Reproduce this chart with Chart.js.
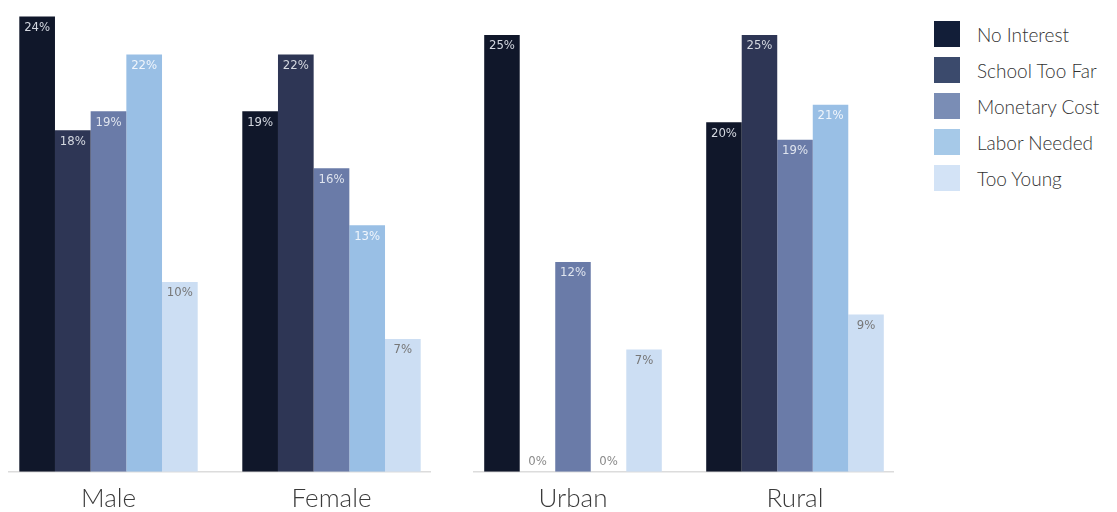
<!DOCTYPE html>
<html>
<head>
    <title>Reasons for Not Attending School</title>
    <script src="https://cdn.jsdelivr.net/npm/chart.js"></script>
    <style>
        body {
            margin: 0;
            padding: 0;
            background: #fff;
            width: 1117px;
            height: 512px;
            position: relative;
            overflow: hidden;
            font-family: Lato, "Open Sans", sans-serif;
        }
        .panel {
            position: absolute;
            top: 0;
            height: 526px;
        }
        #panel-sex { left: -3px; width: 446px; }
        #panel-area { left: 462px; width: 444px; }
        #legend {
            position: absolute;
            left: 934px;
            top: 21px;
        }
        .item {
            display: flex;
            align-items: center;
            height: 26px;
            margin-bottom: 10px;
            font-size: 19px;
            font-weight: 300;
            color: #333;
        }
        .swatch {
            width: 26px;
            height: 26px;
            margin-right: 17px;
        }
    </style>
</head>
<body>

<div class="panel" id="panel-sex"><canvas id="chartSex"></canvas></div>
<div class="panel" id="panel-area"><canvas id="chartArea"></canvas></div>
<div id="legend"></div>

<script>
// reasons (one series per reason)
const reasons = ['No Interest', 'School Too Far', 'Monetary Cost', 'Labor Needed', 'Too Young'];
const barColors = ['#10172a', '#2e3655', '#6a7ba8', '#99bfe5', '#ccdef3'];
const legendColors = ['#121e38', '#3b4a6c', '#7a8db5', '#a6c9e8', '#d3e3f6'];
const labelColors = ['#d4d8e0', '#d4d8e0', '#dfe4ee', '#f0f5fc', '#777777'];

// panel 1: by sex
const sexGroups = ['Male', 'Female'];
const sexNoInterest = [24, 19];
const sexTooFar = [18, 22];
const sexCost = [19, 16];
const sexLabor = [22, 13];
const sexYoung = [10, 7];

// panel 2: by area
const areaGroups = ['Urban', 'Rural'];
const areaNoInterest = [25, 20];
const areaTooFar = [0, 25];
const areaCost = [12, 19];
const areaLabor = [0, 21];
const areaYoung = [7, 9];

// baseline a bit shorter than the plot area, drawn under the bars
const baseLine = {
    id: 'baseLine',
    beforeDatasetsDraw(chart) {
        const a = chart.chartArea;
        const ctx = chart.ctx;
        ctx.save();
        ctx.strokeStyle = '#dcdcdc';
        ctx.lineWidth = 1.5;
        ctx.beginPath();
        ctx.moveTo(a.left + 11, a.bottom);
        ctx.lineTo(a.right - 12, a.bottom);
        ctx.stroke();
        ctx.restore();
    }
};

// value labels drawn inside the top of each bar
const barLabels = {
    id: 'barLabels',
    afterDatasetsDraw(chart) {
        const ctx = chart.ctx;
        ctx.save();
        ctx.font = '13px "Liberation Sans Narrow", "DejaVu Sans Condensed", sans-serif';
        ctx.textAlign = 'center';
        ctx.textBaseline = 'middle';
        chart.data.datasets.forEach((ds, i) => {
            const meta = chart.getDatasetMeta(i);
            meta.data.forEach((bar, j) => {
                const v = ds.data[j];
                if (v === 0) {
                    ctx.fillStyle = '#8a8a8a';
                    ctx.fillText(v + '%', bar.x, bar.base - 10);
                } else {
                    ctx.fillStyle = labelColors[i];
                    ctx.fillText(v + '%', bar.x, bar.y + 11);
                }
            });
        });
        ctx.restore();
    }
};

function makeChart(id, groups, series, yMax) {
    const ctx = document.getElementById(id).getContext('2d');
    return new Chart(ctx, {
        type: 'bar',
        data: {
            labels: groups,
            datasets: series.map((s, i) => ({
                label: reasons[i],
                data: s,
                backgroundColor: barColors[i],
                borderWidth: 0,
                barPercentage: 1.0,
                categoryPercentage: 0.8
            }))
        },
        options: {
            responsive: true,
            maintainAspectRatio: false,
            animation: false,
            layout: { padding: { top: 0, bottom: 1, left: 0, right: 0 } },
            plugins: {
                legend: { display: false },
                tooltip: { enabled: false }
            },
            scales: {
                x: {
                    grid: { display: false, drawTicks: false },
                    border: { display: false },
                    ticks: {
                        padding: 11,
                        color: '#3a3a3a',
                        font: { family: 'Lato, "Open Sans", sans-serif', size: 26, weight: 300 }
                    }
                },
                y: {
                    display: false,
                    min: 0,
                    max: yMax
                }
            }
        },
        plugins: [baseLine, barLabels]
    });
}

makeChart('chartSex', sexGroups,
    [sexNoInterest, sexTooFar, sexCost, sexLabor, sexYoung], 24.87);
makeChart('chartArea', areaGroups,
    [areaNoInterest, areaTooFar, areaCost, areaLabor, areaYoung], 27.0);

// legend
const legend = document.getElementById('legend');
reasons.forEach((r, i) => {
    legend.innerHTML += `<div class="item"><span class="swatch" style="background:${legendColors[i]}"></span>${r}</div>`;
});
</script>

</body>
</html>
